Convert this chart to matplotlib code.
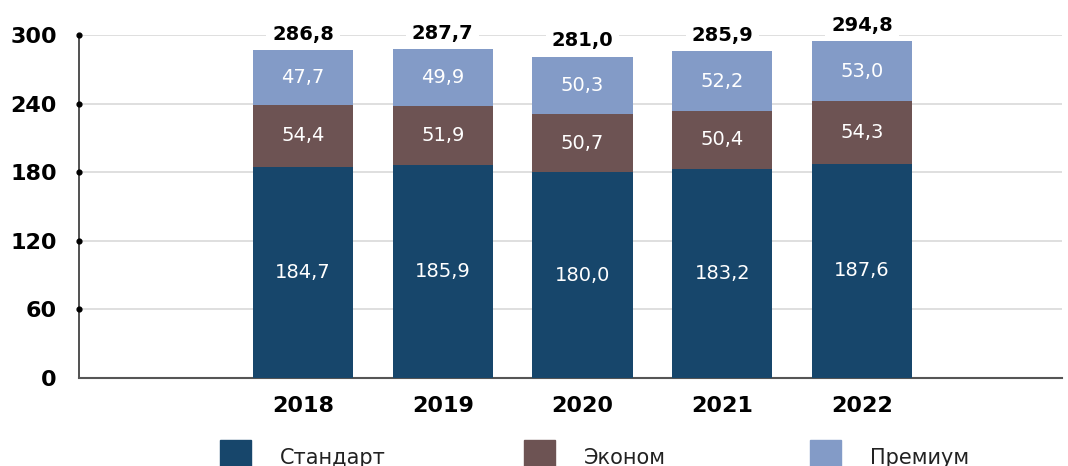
import matplotlib
matplotlib.use("Agg")
import matplotlib.pyplot as plt
from matplotlib.patches import Rectangle
import numpy as np

# Данные
years = ["2018", "2019", "2020", "2021", "2022"]
standard = [184.7, 185.9, 180.0, 183.2, 187.6]
econom = [54.4, 51.9, 50.7, 50.4, 54.3]
premium = [47.7, 49.9, 50.3, 52.2, 53.0]
totals = [286.8, 287.7, 281.0, 285.9, 294.8]
series_names = ["Стандарт", "Эконом", "Премиум"]
colors = ["#17466b", "#6d5353", "#839bc7"]

plt.rcParams["font.family"] = ["DejaVu Sans"]

fig = plt.figure(figsize=(10.68, 4.66), dpi=100)
ax = fig.add_axes([79 / 1068, 88 / 466, (1062 - 79) / 1068, (431 - 88) / 466])

x = np.arange(len(years))
w = 0.716
bottom = np.zeros(len(years))
for vals, col in zip([standard, econom, premium], colors):
    bars = ax.bar(x, vals, w, bottom=bottom, color=col, zorder=3)
    for b, v in zip(bars, vals):
        ax.text(b.get_x() + b.get_width() / 2, b.get_y() + b.get_height() / 2,
                f"{v:.1f}".replace(".", ","), ha="center", va="center",
                color="white", fontsize=14, zorder=4)
    bottom += np.array(vals)

# Итоги над столбцами (белая подложка прячет линии сетки)
for xi, t in zip(x, totals):
    ax.annotate(f"{t:.1f}".replace(".", ","), (xi, t), xytext=(0, 7.5),
                textcoords="offset points", ha="center", va="baseline",
                fontsize=14, fontweight="bold", color="black", zorder=2.5,
                annotation_clip=False,
                bbox=dict(boxstyle="square,pad=0.3", fc="white", ec="none"))

ax.set_xlim(-1.603, 5.431)
ax.set_ylim(0, 300)
ax.set_yticks([0, 60, 120, 180, 240, 300])
ax.set_xticks(x)
ax.set_xticklabels(years)
ax.tick_params(axis="y", length=0, pad=16, labelsize=16)
ax.tick_params(axis="x", length=0, pad=13, labelsize=16)
for lab in ax.get_yticklabels() + ax.get_xticklabels():
    lab.set_fontweight("heavy")

ax.yaxis.grid(True, color="#dcdcdc", linewidth=1.3, zorder=0)
ax.set_axisbelow(True)
for s in ["top", "right"]:
    ax.spines[s].set_visible(False)
ax.spines["left"].set_color("#333333")
ax.spines["bottom"].set_color("#555555")
ax.spines["left"].set_linewidth(1.2)
ax.spines["bottom"].set_linewidth(1.5)

# точки на делениях оси Y
ax.scatter([0] * 5, [60, 120, 180, 240, 300], s=12, color="black",
           transform=ax.get_yaxis_transform(), clip_on=False, zorder=6)

# Легенда внизу
leg_x = [220, 524, 810]
for lx, name, col in zip(leg_x, series_names, colors):
    fig.patches.append(Rectangle((lx / 1068, 0), 31 / 1068, 26 / 466,
                                 transform=fig.transFigure, color=col))
    fig.text((lx + 60) / 1068, 2 / 466, name, fontsize=15, va="baseline",
             ha="left", color="#222222")

fig.savefig("out.png", dpi=100)
